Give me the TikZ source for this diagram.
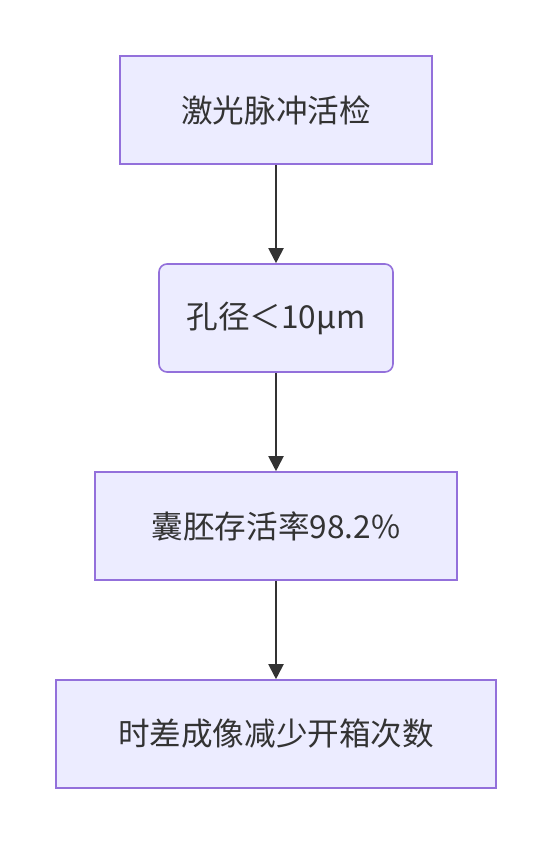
\documentclass[tikz,border=0pt]{standalone}
\usepackage{fontspec}
\setmainfont{Noto Sans CJK SC}
\usetikzlibrary{arrows.meta}
\definecolor{boxfill}{HTML}{ECECFF}
\definecolor{boxline}{HTML}{9370DB}
\definecolor{ink}{HTML}{333333}
\tikzset{
  stepbox/.style={draw=boxline, fill=boxfill, line width=1.6pt, text=ink,
    font=\fontsize{31.6}{38}\selectfont, inner sep=0pt, anchor=center},
  flow/.style={draw=ink, line width=2pt, -{Triangle[length=15pt,width=15pt]}}
}
\begin{document}
\begin{tikzpicture}[x=1pt,y=-1pt]
\useasboundingbox (0,0) rectangle (552,844);
\node[stepbox, minimum width=312pt, minimum height=108pt] (a) at (276,110) {激光脉冲活检};
\node[stepbox, rounded corners=8pt, minimum width=234pt, minimum height=108pt] (b) at (276,318) {孔径＜10µm};
\node[stepbox, minimum width=362pt, minimum height=108pt] (c) at (276,526) {囊胚存活率98.2\%};
\node[stepbox, minimum width=440pt, minimum height=108pt] (d) at (276,734) {时差成像减少开箱次数};
\draw[flow] (a.south) -- (b.north);
\draw[flow] (b.south) -- (c.north);
\draw[flow] (c.south) -- (d.north);
\end{tikzpicture}
\end{document}
